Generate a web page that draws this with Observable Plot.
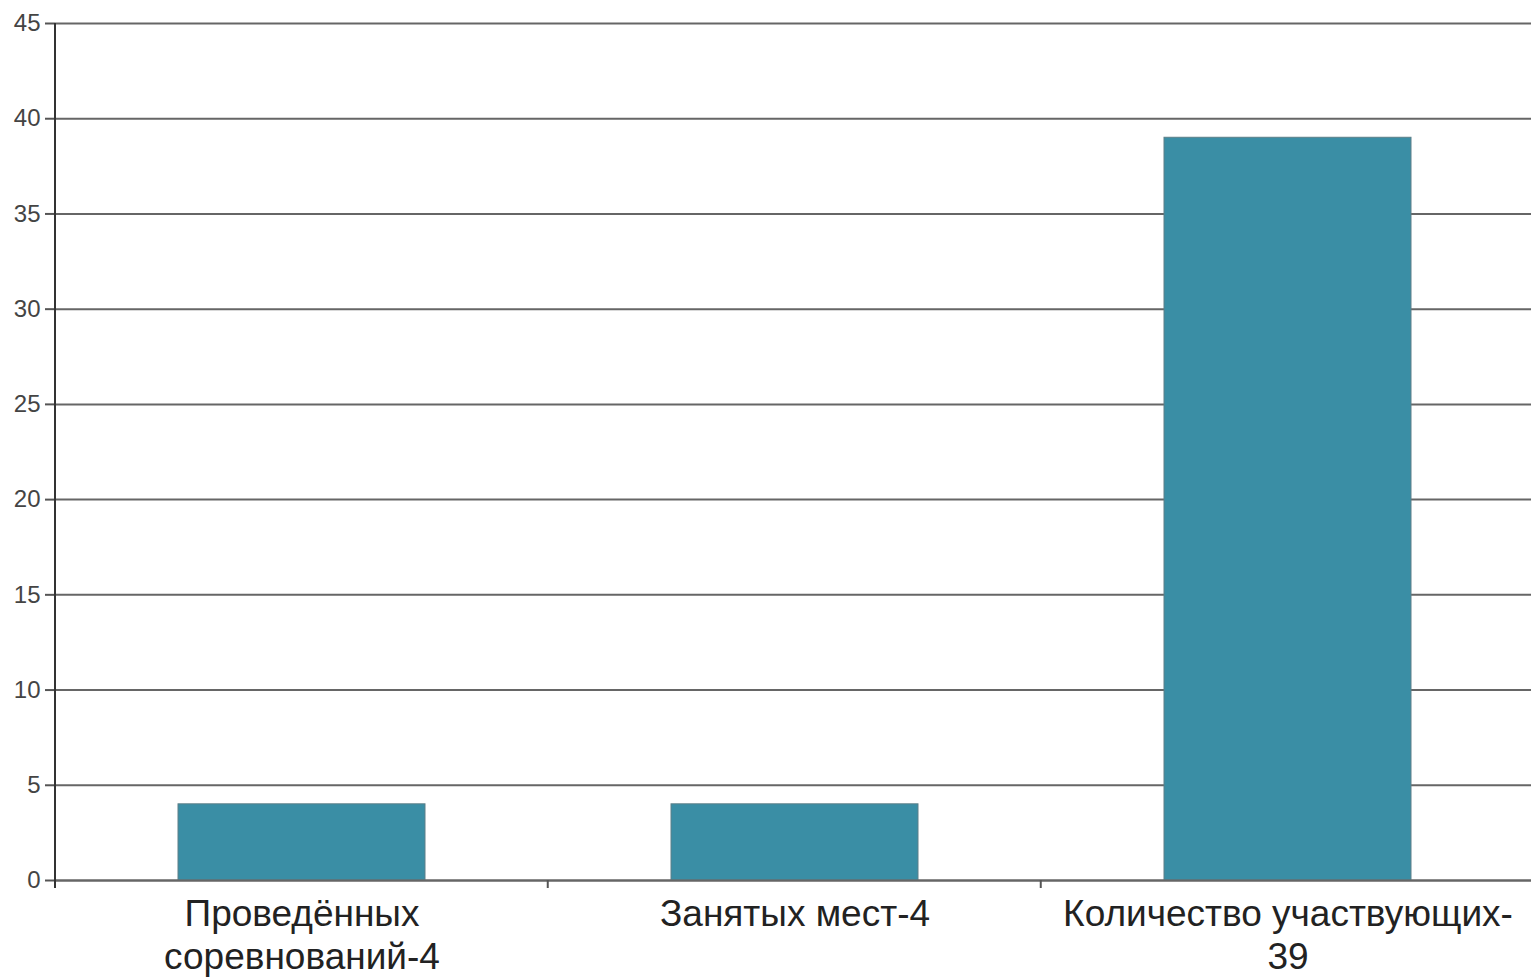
<!DOCTYPE html>
<html>
<head>
<meta charset="utf-8">
<script src="https://cdn.jsdelivr.net/npm/d3@7"></script>
<script src="https://cdn.jsdelivr.net/npm/@observablehq/plot@0.6"></script>
<style>
  html, body { margin: 0; padding: 0; background: #fff; }
  #chart svg { display: block; }
</style>
</head>
<body>
<div id="chart"></div>
<script>
const categories = ["Проведённых соревнований-4", "Занятых мест-4", "Количество участвующих-39"];
const labels = ["Проведённых\nсоревнований-4", "Занятых мест-4", "Количество участвующих-\n39"];
const values = [4, 4, 39];
const yTicks = [0, 5, 10, 15, 20, 25, 30, 35, 40, 45];

const data = categories.map((c, i) => ({category: c, value: values[i], label: labels[i]}));

const W = 1531, H = 979;
const font = "'Liberation Sans', Arial, sans-serif";

const boundaryMark = (index, scales, vals, dims) => {
  const g = d3.create("svg:g");
  const x = scales.x, y = scales.y;
  const xs = categories.map(c => x(c));
  const step = xs[1] - xs[0];
  const y0 = y(0);
  const bounds = xs.slice(1).map(v => v - 0.25 * step);
  g.selectAll("line.t").data(bounds).join("line")
    .attr("x1", d => d).attr("x2", d => d)
    .attr("y1", y0).attr("y2", y0 + 8)
    .attr("stroke", "#555").attr("stroke-width", 2);
  g.append("line")
    .attr("x1", dims.marginLeft).attr("x2", dims.marginLeft)
    .attr("y1", y(45)).attr("y2", y0 + 8)
    .attr("stroke", "#333").attr("stroke-width", 2);
  return g.node();
};

const chart = Plot.plot({
  width: W,
  height: H,
  marginLeft: 55,
  marginRight: 0,
  marginTop: 23,
  marginBottom: 99,
  style: {fontFamily: font, background: "#fff"},
  x: {domain: categories, range: [55, 1534], paddingInner: 0.5, paddingOuter: 0.25, axis: null},
  y: {domain: [0, 45], axis: null, label: null},
  marks: [
    Plot.ruleY(yTicks, {stroke: "#666", strokeWidth: 2, strokeOpacity: 1}),
    Plot.axisY({ticks: yTicks, label: null, tickSize: 10, tickPadding: 5, fontSize: 24, stroke: "#555", strokeWidth: 2, fill: "#444", tickFormat: d => String(d)}),
    Plot.barY(data, {x: "category", y: "value", fill: "#3a8ea5", stroke: "#5c7f88", strokeWidth: 1}),
    Plot.ruleY([0], {stroke: "#666", strokeWidth: 2}),
    boundaryMark,
    Plot.text(data, {x: "category", y: 0, text: "label", lineAnchor: "top", dy: 15, fontSize: 37, lineHeight: 1.16, fill: "#222", fontFamily: font})
  ]
});

document.getElementById("chart").appendChild(chart);
</script>
</body>
</html>
